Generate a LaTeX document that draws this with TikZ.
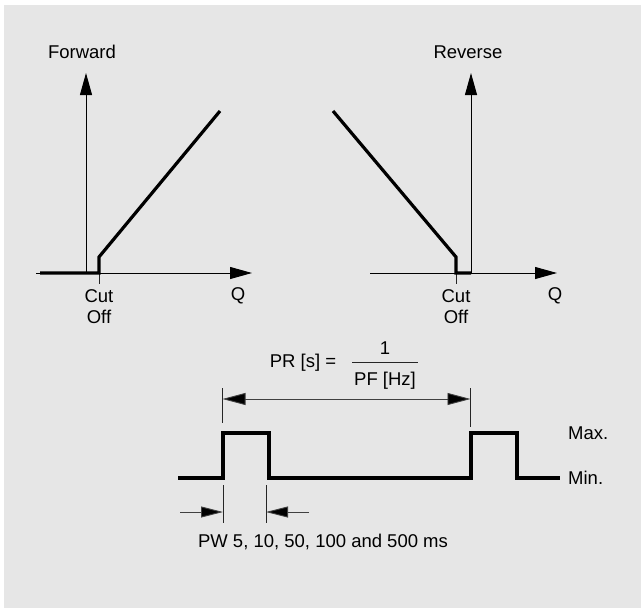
\documentclass[tikz,border=0pt]{standalone}
\usepackage{fontspec}
\setmainfont{Liberation Sans}
\usetikzlibrary{arrows.meta}
\definecolor{bgray}{HTML}{E6E6E6}
\begin{document}
\begin{tikzpicture}[x=1pt,y=-1pt,
  lbl/.style={inner sep=0pt, font=\fontsize{18.5}{21}\selectfont},
  axisline/.style={line width=1pt, draw=black, -{Triangle[length=22pt,width=12pt]}},
  curveline/.style={line width=3.2pt, line join=miter, line cap=butt},
  thinline/.style={line width=0.9pt, draw=black!85},
  dimline/.style={line width=0.9pt, draw=black!75, {Triangle[length=23pt,width=12pt,fill=black]}-{Triangle[length=23pt,width=12pt,fill=black]}},
  pwarrow/.style={line width=0.9pt, draw=black!75, -{Triangle[length=22pt,width=11pt,fill=black]}},
 ]
\useasboundingbox (0,0) rectangle (641,608);
\fill[bgray] (4,5) rectangle (641,608);

% ---- left chart (Forward)
\coordinate (Lo) at (86,273);
\coordinate (Ltop) at (86,73);
\coordinate (Lxs) at (36,273);
\coordinate (Lxe) at (252,273);
\draw[axisline] (Lo) -- (Ltop);
\draw[axisline] (Lxs) -- (Lxe);
\coordinate (Lc0) at (40,273);
\coordinate (Lc1) at (99,273);
\coordinate (Lc2) at (99,257);
\coordinate (Lc3) at (220,111);
\coordinate (Ltick) at (99,284);
\draw[thinline] (Lc1) -- (Ltick);
\draw[curveline] (Lc0) -- (Lc1) -- (Lc2) -- (Lc3);
\node[lbl] (fwd) at (82,52) {Forward};
\node[lbl, align=center, anchor=north] (Lcut) at (99,289) {Cut\\Off};
\node[lbl] (LQ) at (238,296) {Q};

% ---- right chart (Reverse)
\coordinate (Ro) at (471,273);
\coordinate (Rtop) at (471,73);
\coordinate (Rxs) at (370,273);
\coordinate (Rxe) at (557,273);
\draw[axisline] (Ro) -- (Rtop);
\draw[axisline] (Rxs) -- (Rxe);
\coordinate (Rc0) at (333,111);
\coordinate (Rc1) at (456,257);
\coordinate (Rc2) at (456,273);
\coordinate (Rc3) at (471,273);
\coordinate (Rtick) at (456,284);
\draw[thinline] (Rc2) -- (Rtick);
\draw[curveline] (Rc0) -- (Rc1) -- (Rc2) -- (Rc3);
\node[lbl] (rev) at (468,52) {Reverse};
\node[lbl, align=center, anchor=north] (Rcut) at (456,289) {Cut\\Off};
\node[lbl] (RQ) at (555,296) {Q};

% ---- pulse train
\coordinate (p0) at (178,478);
\coordinate (p1) at (223,478);
\coordinate (p2) at (223,433);
\coordinate (p3) at (269,433);
\coordinate (p4) at (269,478);
\coordinate (p5) at (471,478);
\coordinate (p6) at (471,433);
\coordinate (p7) at (517,433);
\coordinate (p8) at (517,478);
\coordinate (p9) at (560,478);
\draw[curveline] (p0) -- (p1) -- (p2) -- (p3) -- (p4) -- (p5) -- (p6) -- (p7) -- (p8) -- (p9);
\node[lbl, anchor=west] (max) at (568,433) {Max.};
\node[lbl, anchor=west] (min) at (568,478) {Min.};

% ---- period dimension
\coordinate (e1a) at (222.5,388);
\coordinate (e1b) at (222.5,423);
\coordinate (e2a) at (470.5,388);
\coordinate (e2b) at (470.5,427);
\draw[thinline] (e1a) -- (e1b);
\draw[thinline] (e2a) -- (e2b);
\coordinate (d1) at (222.5,399);
\coordinate (d2) at (470.5,399);
\draw[dimline] (d1) -- (d2);
\node[lbl] (pr) at (303,363) {PR [s] =};
\node[lbl] (one) at (385,348) {1};
\node[lbl] (pf) at (385,381) {PF [Hz]};
\coordinate (fb1) at (352,362);
\coordinate (fb2) at (418,362);
\draw[thinline] (fb1) -- (fb2);

% ---- pulse width dimension
\coordinate (w1a) at (223,485);
\coordinate (w1b) at (223,523);
\coordinate (w2a) at (266,485);
\coordinate (w2b) at (266,523);
\draw[thinline] (w1a) -- (w1b);
\draw[thinline] (w2a) -- (w2b);
\coordinate (a1s) at (180,512);
\coordinate (a1e) at (223,512);
\coordinate (a2s) at (309,512);
\coordinate (a2e) at (266,512);
\draw[pwarrow] (a1s) -- (a1e);
\draw[pwarrow] (a2s) -- (a2e);
\node[lbl] (pw) at (323,542) {PW 5, 10, 50, 100 and 500 ms};
\end{tikzpicture}
\end{document}
